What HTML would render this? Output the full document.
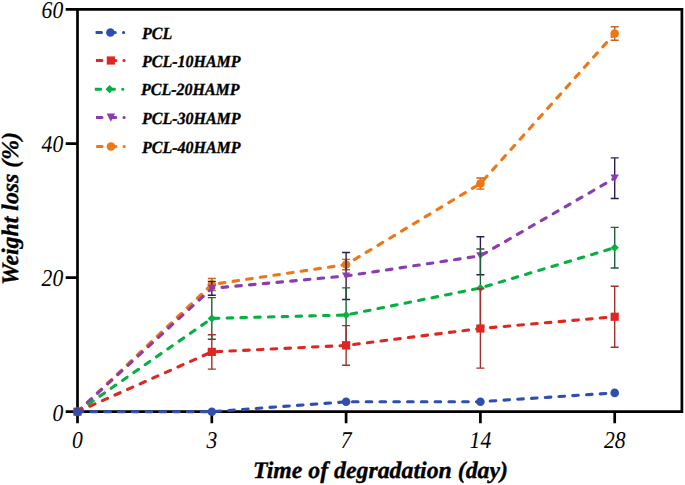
<!DOCTYPE html>
<html><head><meta charset="utf-8"><style>
html,body{margin:0;padding:0;background:#fff;width:685px;height:485px;overflow:hidden}
svg{display:block}
text{font-family:"Liberation Serif",serif;fill:#000;text-rendering:geometricPrecision}
.tk{font-style:italic;font-size:24px}
.lg{font-style:italic;font-weight:bold;font-size:17px;stroke:#000;stroke-width:0.35px}
.ti{font-style:italic;font-weight:bold;font-size:23.8px;stroke:#000;stroke-width:0.35px}
</style></head><body>
<svg width="685" height="485" viewBox="0 0 685 485">
<defs><clipPath id="lc0"><rect x="95.60" y="0" width="40" height="200"/></clipPath><clipPath id="lc1"><rect x="96.05" y="0" width="40" height="200"/></clipPath><clipPath id="lc2"><rect x="94.80" y="0" width="40" height="200"/></clipPath><clipPath id="lc3"><rect x="96.10" y="0" width="40" height="200"/></clipPath><clipPath id="lc4"><rect x="96.20" y="0" width="40" height="200"/></clipPath></defs>
<rect width="685" height="485" fill="#fff"/>

<path d="M65.7 9.4H683.3M681.9 9.4V411.7M77.5 9.4V423.3M65.7 411.7H683.3M65.7 277.6H77.5M65.7 143.6H77.5M211.8 411.7V423.3M346.1 411.7V423.3M480.4 411.7V423.3M614.7 411.7V423.3" stroke="#000" stroke-width="2.7" fill="none"/>

<text transform="translate(63.2 420.50) scale(0.9 1)" class="tk" text-anchor="end">0</text><text transform="translate(63.2 286.40) scale(0.9 1)" class="tk" text-anchor="end">20</text><text transform="translate(63.2 152.40) scale(0.9 1)" class="tk" text-anchor="end">40</text><text transform="translate(63.2 18.30) scale(0.9 1)" class="tk" text-anchor="end">60</text><text transform="translate(77.50 447.8) scale(0.9 1)" class="tk" text-anchor="middle">0</text><text transform="translate(211.80 447.8) scale(0.9 1)" class="tk" text-anchor="middle">3</text><text transform="translate(346.10 447.8) scale(0.9 1)" class="tk" text-anchor="middle">7</text><text transform="translate(480.40 447.8) scale(0.9 1)" class="tk" text-anchor="middle">14</text><text transform="translate(614.70 447.8) scale(0.9 1)" class="tk" text-anchor="middle">28</text>
<g><polyline points="77.50,411.70 211.80,284.50 346.10,264.55 480.40,183.55 614.70,33.50" fill="none" stroke="#ee7615" stroke-width="3.1" stroke-dasharray="5.6 8.18" stroke-dashoffset="0.3" stroke-linecap="round" stroke-linejoin="round"/><path d="M211.80 278.50V290.50M207.80 278.50H215.80M207.80 290.50H215.80" stroke="#c9621c" stroke-width="1.4" fill="none"/><path d="M346.10 259.40V269.70M342.10 259.40H350.10M342.10 269.70H350.10" stroke="#c9621c" stroke-width="1.4" fill="none"/><path d="M480.40 177.95V189.15M476.40 177.95H484.40M476.40 189.15H484.40" stroke="#c9621c" stroke-width="1.4" fill="none"/><path d="M614.70 26.70V40.30M610.70 26.70H618.70M610.70 40.30H618.70" stroke="#c9621c" stroke-width="1.4" fill="none"/><circle cx="77.50" cy="411.70" r="4.30" fill="#ee7615"/><circle cx="211.80" cy="284.50" r="4.30" fill="#ee7615"/><circle cx="346.10" cy="264.55" r="4.30" fill="#ee7615"/><circle cx="480.40" cy="183.55" r="4.30" fill="#ee7615"/><circle cx="614.70" cy="33.50" r="4.30" fill="#ee7615"/><polyline points="77.50,411.70 211.80,288.35 346.10,276.00 480.40,255.80 614.70,178.20" fill="none" stroke="#8a3db0" stroke-width="3.1" stroke-dasharray="5.6 8.18" stroke-dashoffset="0.3" stroke-linecap="round" stroke-linejoin="round"/><path d="M211.80 281.40V295.30M207.80 281.40H215.80M207.80 295.30H215.80" stroke="#2e1c55" stroke-width="1.4" fill="none"/><path d="M346.10 252.45V299.55M342.10 252.45H350.10M342.10 299.55H350.10" stroke="#2e1c55" stroke-width="1.4" fill="none"/><path d="M480.40 236.80V274.80M476.40 236.80H484.40M476.40 274.80H484.40" stroke="#2e1c55" stroke-width="1.4" fill="none"/><path d="M614.70 157.90V198.50M610.70 157.90H618.70M610.70 198.50H618.70" stroke="#2e1c55" stroke-width="1.4" fill="none"/><path d="M73.30 408.10L81.70 408.10L77.50 415.30Z" fill="#8a3db0"/><path d="M207.60 284.75L216.00 284.75L211.80 291.95Z" fill="#8a3db0"/><path d="M341.90 272.40L350.30 272.40L346.10 279.60Z" fill="#8a3db0"/><path d="M476.20 252.20L484.60 252.20L480.40 259.40Z" fill="#8a3db0"/><path d="M610.50 174.60L618.90 174.60L614.70 181.80Z" fill="#8a3db0"/><polyline points="77.50,411.70 211.80,318.40 346.10,315.00 480.40,288.00 614.70,247.70" fill="none" stroke="#05b043" stroke-width="3.1" stroke-dasharray="5.6 8.18" stroke-dashoffset="0.3" stroke-linecap="round" stroke-linejoin="round"/><path d="M211.80 297.60V339.20M207.80 297.60H215.80M207.80 339.20H215.80" stroke="#215e37" stroke-width="1.4" fill="none"/><path d="M346.10 287.90V342.10M342.10 287.90H350.10M342.10 342.10H350.10" stroke="#215e37" stroke-width="1.4" fill="none"/><path d="M480.40 249.00V327.00M476.40 249.00H484.40M476.40 327.00H484.40" stroke="#215e37" stroke-width="1.4" fill="none"/><path d="M614.70 227.40V268.00M610.70 227.40H618.70M610.70 268.00H618.70" stroke="#215e37" stroke-width="1.4" fill="none"/><path d="M77.50 407.60L81.60 411.70L77.50 415.80L73.40 411.70Z" fill="#05b043"/><path d="M211.80 314.30L215.90 318.40L211.80 322.50L207.70 318.40Z" fill="#05b043"/><path d="M346.10 310.90L350.20 315.00L346.10 319.10L342.00 315.00Z" fill="#05b043"/><path d="M480.40 283.90L484.50 288.00L480.40 292.10L476.30 288.00Z" fill="#05b043"/><path d="M614.70 243.60L618.80 247.70L614.70 251.80L610.60 247.70Z" fill="#05b043"/><polyline points="77.50,411.70 211.80,351.90 346.10,345.40 480.40,328.50 614.70,316.75" fill="none" stroke="#dd2722" stroke-width="3.1" stroke-dasharray="5.6 8.18" stroke-dashoffset="0.3" stroke-linecap="round" stroke-linejoin="round"/><path d="M211.80 334.70V369.10M207.80 334.70H215.80M207.80 369.10H215.80" stroke="#a3302c" stroke-width="1.4" fill="none"/><path d="M346.10 325.60V365.20M342.10 325.60H350.10M342.10 365.20H350.10" stroke="#a3302c" stroke-width="1.4" fill="none"/><path d="M480.40 288.90V368.10M476.40 288.90H484.40M476.40 368.10H484.40" stroke="#a3302c" stroke-width="1.4" fill="none"/><path d="M614.70 286.30V347.20M610.70 286.30H618.70M610.70 347.20H618.70" stroke="#a3302c" stroke-width="1.4" fill="none"/><rect x="73.40" y="407.60" width="8.20" height="8.20" fill="#dd2722"/><rect x="207.70" y="347.80" width="8.20" height="8.20" fill="#dd2722"/><rect x="342.00" y="341.30" width="8.20" height="8.20" fill="#dd2722"/><rect x="476.30" y="324.40" width="8.20" height="8.20" fill="#dd2722"/><rect x="610.60" y="312.65" width="8.20" height="8.20" fill="#dd2722"/><polyline points="77.50,411.70 211.80,411.70 346.10,401.80 480.40,401.70 614.70,392.90" fill="none" stroke="#2f4fae" stroke-width="3.1" stroke-dasharray="5.6 8.18" stroke-dashoffset="0.3" stroke-linecap="round" stroke-linejoin="round"/><circle cx="77.50" cy="411.70" r="4.30" fill="#2f4fae"/><circle cx="211.80" cy="411.70" r="4.30" fill="#2f4fae"/><circle cx="346.10" cy="401.80" r="4.30" fill="#2f4fae"/><circle cx="480.40" cy="401.70" r="4.30" fill="#2f4fae"/><circle cx="614.70" cy="392.90" r="4.30" fill="#2f4fae"/></g>
<g><line x1="95.90" y1="32.50" x2="123.70" y2="32.50" stroke="#2f4fae" stroke-width="3" stroke-dasharray="5.6 8.18" stroke-linecap="round" clip-path="url(#lc0)"/><circle cx="110.40" cy="32.50" r="4.30" fill="#2f4fae"/><text transform="translate(142 38.70) scale(0.94 1)" class="lg">PCL</text><line x1="96.35" y1="60.50" x2="124.15" y2="60.50" stroke="#dd2722" stroke-width="3" stroke-dasharray="5.6 8.18" stroke-linecap="round" clip-path="url(#lc1)"/><rect x="106.75" y="56.40" width="8.20" height="8.20" fill="#dd2722"/><text transform="translate(142 66.70) scale(0.94 1)" class="lg">PCL-10HAMP</text><line x1="95.10" y1="89.20" x2="122.90" y2="89.20" stroke="#05b043" stroke-width="3" stroke-dasharray="5.6 8.18" stroke-linecap="round" clip-path="url(#lc2)"/><path d="M109.60 85.10L113.70 89.20L109.60 93.30L105.50 89.20Z" fill="#05b043"/><text transform="translate(141 95.40) scale(0.94 1)" class="lg">PCL-20HAMP</text><line x1="96.40" y1="117.50" x2="124.20" y2="117.50" stroke="#8a3db0" stroke-width="3" stroke-dasharray="5.6 8.18" stroke-linecap="round" clip-path="url(#lc3)"/><path d="M106.70 113.40L115.10 113.40L110.90 121.70Z" fill="#8a3db0"/><text transform="translate(142 123.70) scale(0.94 1)" class="lg">PCL-30HAMP</text><line x1="96.50" y1="146.50" x2="124.30" y2="146.50" stroke="#ee7615" stroke-width="3" stroke-dasharray="5.6 8.18" stroke-linecap="round" clip-path="url(#lc4)"/><circle cx="111.00" cy="146.50" r="4.30" fill="#ee7615"/><text transform="translate(142 152.70) scale(0.94 1)" class="lg">PCL-40HAMP</text></g>
<text x="380.5" y="477.8" class="ti" text-anchor="middle">Time of degradation (day)</text>
<text transform="translate(18.3 208.5) rotate(-90)" class="ti" text-anchor="middle">Weight loss (%)</text>
</svg>
</body></html>
